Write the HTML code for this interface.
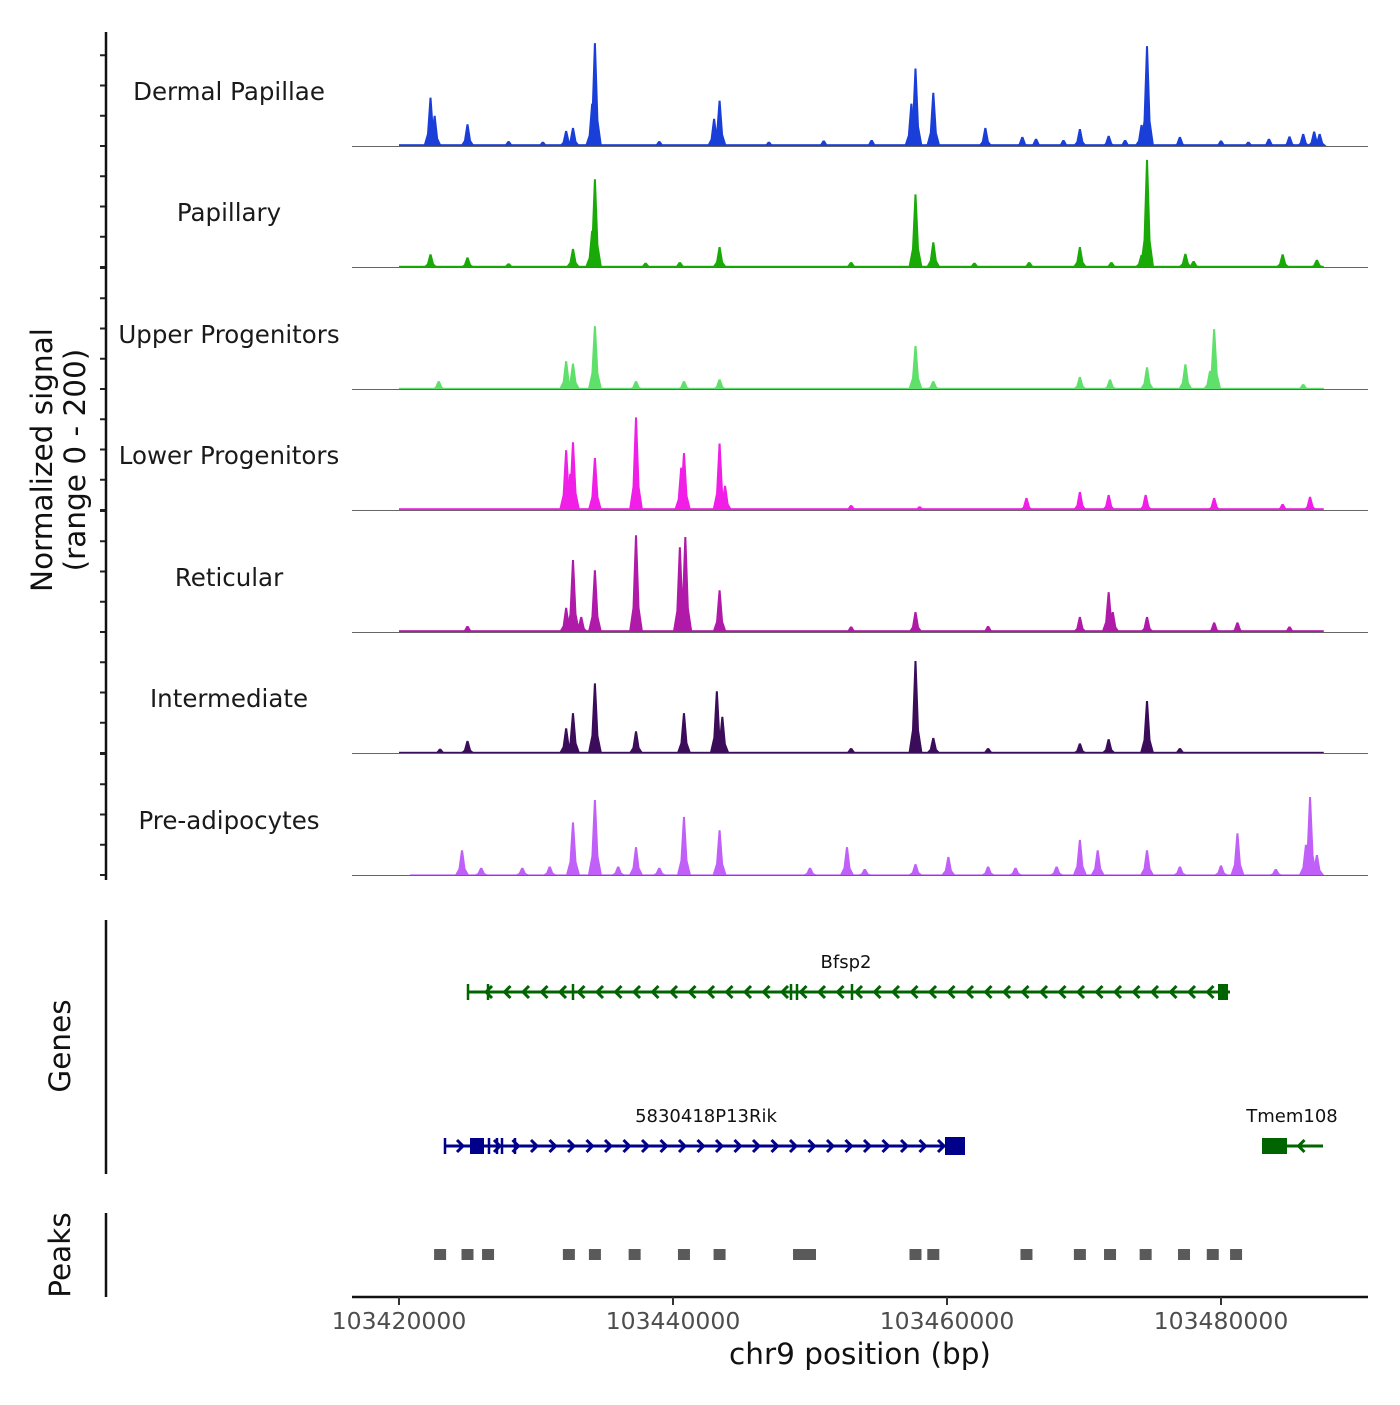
<!DOCTYPE html>
<html><head><meta charset="utf-8"><style>body{margin:0;background:#fff}svg{font-family:"DejaVu Sans","Liberation Sans",sans-serif}</style></head>
<body>
<svg id="c" width="1400" height="1400" viewBox="0 0 1400 1400" xmlns="http://www.w3.org/2000/svg"></svg>
<script>
const trackNames=["Dermal Papillae","Papillary","Upper Progenitors","Lower Progenitors","Reticular","Intermediate","Pre-adipocytes"];
const trackColors=["#1a3fd8","#1aaa08","#5fe06a","#f01ee6","#b01aa8","#3a0c5a","#c060f8"];
// peaks: [kb offset from 103420000, normalized value]
const peaksDP=[[2.3,80],[2.6,50],[5.0,36],[12.2,25],[12.7,30],[14.3,170],[14.1,70],[23.4,75],[23.0,45],[37.7,128],[37.4,70],[39.0,88],[42.8,30],[45.5,15],[49.7,28],[51.8,17],[54.2,35],[54.6,165],[57.0,15],[63.5,12],[65,16],[66,20],[66.8,24],[67.2,20],[8,8],[10.5,7],[19,8],[27,7],[31,9],[34.5,10],[46.5,12],[48.5,10],[53,10],[60,9],[62,7]];
const peaksPap=[[2.3,21],[5.0,16],[12.7,30],[14.1,60],[14.3,145],[23.4,33],[37.7,120],[39.0,41],[49.7,33],[54.2,20],[54.6,177],[57.4,22],[64.5,21],[67,12],[8,6],[18,7],[20.5,8],[33,8],[42,7],[46,8],[52,8],[58,10]];
const peaksUp=[[2.9,13],[12.2,46],[12.7,42],[14.3,104],[17.3,13],[20.8,13],[23.4,16],[37.7,71],[39.0,13],[49.7,20],[51.9,16],[54.6,36],[57.4,41],[59.5,99],[59.2,30],[66,8]];
const peaksLow=[[12.2,99],[12.7,112],[12.5,60],[14.3,86],[17.3,153],[20.6,70],[20.8,94],[23.4,110],[23.8,40],[45.8,20],[49.7,30],[51.8,25],[54.5,25],[59.5,20],[66.5,22],[33,8],[38,6],[64.5,10]];
const peaksRet=[[12.2,40],[12.7,119],[13.3,25],[14.3,102],[17.3,160],[20.5,140],[20.9,157],[23.4,69],[37.7,33],[49.7,25],[51.8,66],[52.1,33],[54.6,25],[59.5,16],[61.2,16],[5,10],[33,9],[43,10],[65,9]];
const peaksInt=[[5.0,20],[12.2,41],[12.7,66],[14.3,115],[17.3,36],[20.8,66],[23.2,102],[23.6,60],[37.7,152],[39.0,25],[49.7,16],[51.8,23],[54.6,86],[3,7],[33,8],[43,8],[57,8]];
const peaksPre=[[4.6,41],[12.7,87],[14.3,124],[17.3,46],[20.8,96],[23.4,74],[32.7,46],[40.1,30],[49.7,58],[51.0,41],[54.6,41],[61.2,69],[66.5,129],[66.2,50],[67.0,33],[6,12],[9,12],[11,14],[16,14],[19,12],[30,12],[34,10],[37.7,18],[43,14],[45,12],[48,14],[57,14],[60,16],[64,10]];
const allPeaks=[peaksDP,peaksPap,peaksUp,peaksLow,peaksRet,peaksInt,peaksPre];
// background level per track: [startKb,endKb,value]
const bgDP=[0,67.5,3],bgPap=[0,67.5,2],bgUp=[0,67.5,2],bgLow=[0,67.5,3],bgRet=[0,67.5,3],bgInt=[0,67.5,2],bgPre=[0.8,67.5,1];
const allBg=[bgDP,bgPap,bgUp,bgLow,bgRet,bgInt,bgPre];
const xTicks=[103420000,103440000,103460000,103480000];
const peakRegions=[103423000,103425000,103426500,103432400,103434300,103437200,103440800,103443400,103449200,103450000,103457700,103459000,103465800,103469700,103471900,103474500,103477300,103479400,103481100];
const S=document.getElementById('c'),NS='http://www.w3.org/2000/svg';
function el(t,a,p){const e=document.createElementNS(NS,t);for(const k in a)e.setAttribute(k,a[k]);(p||S).appendChild(e);return e;}
const X0=103420000;
function xs(bp){return 399+(bp-X0)/60000*822;}
function xk(kb){return xs(X0+kb*1000);}
const baselines=[146,267,389,510,632,753,875];
const TH=121;
function ys(v,b){return b-v/200*TH;}
trackNames.forEach((nm,i)=>{
  const b=baselines[i],g=el('g',{});
  
  
  const bg=allBg[i];
  const r=el('rect',{x:xk(bg[0]),y:ys(bg[2],b),width:xk(bg[1])-xk(bg[0]),height:b-ys(bg[2],b),fill:trackColors[i]},g);
  
  
  allPeaks[i].forEach(p=>{
    const x=xk(p[0]),h=ys(p[1],b),s=ys(p[1]*0.25,b);
    const pg=el('polygon',{points:`${x-7},${b} ${x-3.5},${s} ${x-1},${h} ${x+1},${h} ${x+3.5},${s} ${x+7},${b}`,fill:trackColors[i]},g);
    
    
  });
  const ln=el('line',{x1:352,x2:1368,y1:b+0.5,y2:b+0.5,stroke:'#666','stroke-width':1},g);
  
  
  const t=el('text',{x:229,y:b-46,'text-anchor':'middle','font-size':24.5,fill:'#1a1a1a'},g);t.textContent=nm;
  
  
  for(let v=0;v<=200;v+=50){if(i===0&&v===200)continue;const tk=el('line',{x1:100,x2:106,y1:ys(v,b),y2:ys(v,b),stroke:'#222','stroke-width':2},g);
  
  }
});
function L(x1,y1,x2,y2,c,w,n){const e=el('line',{x1,y1,x2,y2,stroke:c,'stroke-width':w});return e;}
L(106,32,106,880,'#111',2.5,'y-axis-line');
L(106,920,106,1174,'#111',2.5,'genes-axis-line');
L(106,1213,106,1297,'#111',2.5,'peaks-axis-line');
L(352,1297,1368,1297,'#111',2.5,'x-axis-line');
function T(x,y,s,txt,n,extra){const e=el('text',Object.assign({x,y,'font-size':s,'text-anchor':'middle',fill:'#111'},extra||{}));e.textContent=txt;return e;}
xTicks.forEach(v=>{L(xs(v),1297,xs(v),1305,'#333',2,'x-tick');T(xs(v),1329,23.5,String(v),'x-tick-label',{fill:'#4d4d4d'});});
T(860,1364,29.5,'chr9 position (bp)','x-axis-title');
T(0,0,29.5,'Normalized signal','y-axis-title',{transform:'translate(52,460) rotate(-90)'});
T(0,0,29.5,'(range 0 - 200)','y-axis-subtitle',{transform:'translate(85,460) rotate(-90)'});
T(0,0,29.5,'Genes','genes-axis-title',{transform:'translate(70,1046) rotate(-90)'});
T(0,0,29.5,'Peaks','peaks-axis-title',{transform:'translate(70,1255) rotate(-90)'});
// genes
function gene(name,x1,x2,y,c,dir,exons,lines,lx){
  const g=el('g',{});
  el('line',{x1,x2,y1:y,y2:y,stroke:c,'stroke-width':3},g);
  for(let x=x1+18;x<x2-10;x+=18.5){const d=dir*6;el('polyline',{points:`${x-d},${y-6} ${x},${y} ${x-d},${y+6}`,fill:'none',stroke:c,'stroke-width':3},g);}
  exons.forEach(e=>el('rect',{x:e[0],y:y-e[1]/2,width:e[2],height:e[1],fill:c},g));
  lines.forEach(x=>el('line',{x1:x,x2:x,y1:y-8,y2:y+8,stroke:c,'stroke-width':2.5},g));
  const t=el('text',{x:lx,y:y-24,'font-size':18,'text-anchor':'middle',fill:'#111'},g);t.textContent=name;
}
gene('Bfsp2',468,1230,992,'#006400',-1,[[1218,16,10]],[468,488,573,791,797,852],846);
gene('5830418P13Rik',445,965,1146,'#00008b',1,[[470,16,14],[945,18,20]],[445,489,497,502,515],706);
gene('Tmem108',1262,1323,1146,'#006400',-1,[[1262,16,25]],[],1292);
peakRegions.forEach(p=>{const r=el('rect',{x:xs(p)-6,y:1249,width:12,height:11,fill:'#5a5a5a'});

});
</script>
</body></html>
